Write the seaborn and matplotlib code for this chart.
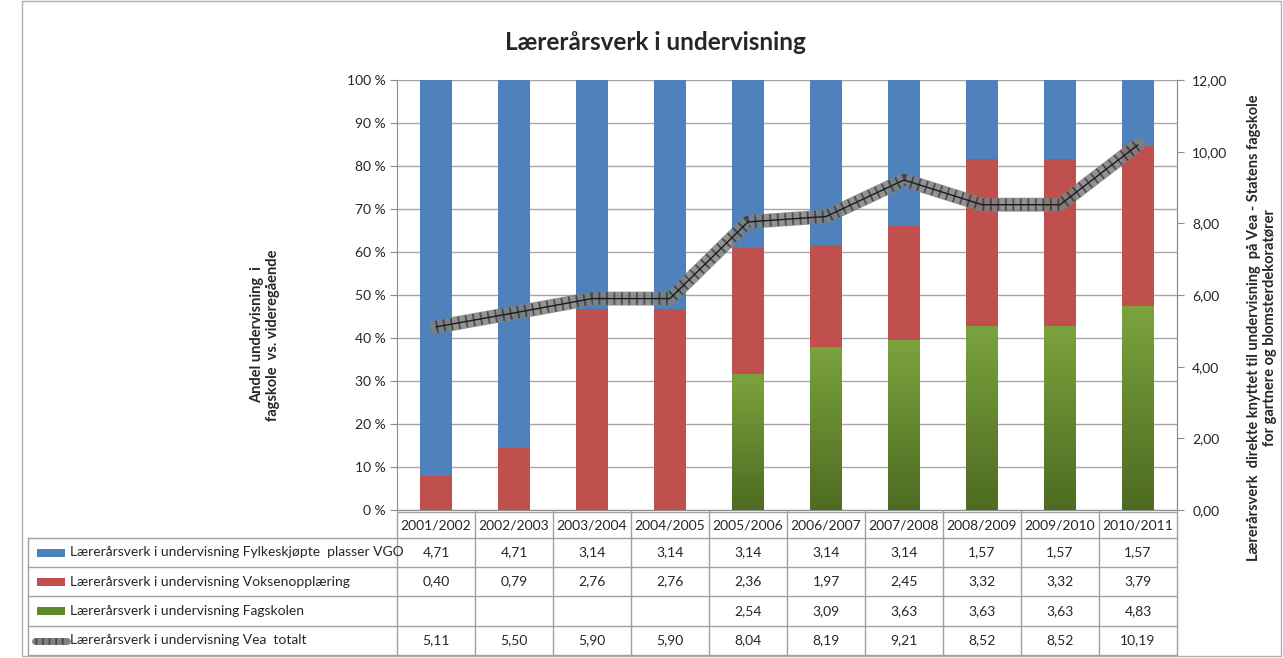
import numpy as np
import pandas as pd
import matplotlib
matplotlib.use("Agg")
import matplotlib.pyplot as plt
import seaborn as sns
from matplotlib.lines import Line2D
from matplotlib.patches import Rectangle

years = ['2001/2002', '2002/2003', '2003/2004', '2004/2005', '2005/2006',
         '2006/2007', '2007/2008', '2008/2009', '2009/2010', '2010/2011']
vgo = [4.71, 4.71, 3.14, 3.14, 3.14, 3.14, 3.14, 1.57, 1.57, 1.57]
voksen = [0.40, 0.79, 2.76, 2.76, 2.36, 1.97, 2.45, 3.32, 3.32, 3.79]
fagskolen = [np.nan, np.nan, np.nan, np.nan, 2.54, 3.09, 3.63, 3.63, 3.63, 4.83]
totalt = [5.11, 5.50, 5.90, 5.90, 8.04, 8.19, 9.21, 8.52, 8.52, 10.19]

row_labels = ['Lærerårsverk i undervisning Fylkeskjøpte  plasser VGO',
              'Lærerårsverk i undervisning Voksenopplæring',
              'Lærerårsverk i undervisning Fagskolen',
              'Lærerårsverk i undervisning Vea  totalt']

BLUE = '#4f81bd'
RED = '#c0504d'
GREEN_TOP = '#7ba33d'
GREEN_BOT = '#4d6b22'
GRID = '#a6a6a6'

df = pd.DataFrame({'year': years, 'vgo': vgo, 'voksen': voksen,
                   'fag': np.nan_to_num(fagskolen)})
tot = df[['vgo', 'voksen', 'fag']].sum(axis=1)
df['p_fag'] = df['fag'] / tot * 100
df['p_red'] = (df['fag'] + df['voksen']) / tot * 100
df['p_all'] = 100.0

sns.set_style('white')
plt.rcParams['font.family'] = ['Lato', 'DejaVu Sans']

W, H = 1283, 658
fig = plt.figure(figsize=(W / 100, H / 100), dpi=100)


def fx(x):
    return x / W


def fy(y):
    return 1 - y / H


L, R, T, B = 397, 1177, 80, 510
ax = fig.add_axes([fx(L), fy(B), fx(R) - fx(L), fy(T) - fy(B)])

bar_kw = dict(width=0.41, saturation=1, errorbar=None, ax=ax,
              linewidth=0, edgecolor='none')
sns.barplot(data=df, x='year', y='p_all', color=BLUE, **bar_kw)
sns.barplot(data=df, x='year', y='p_red', color=RED, **bar_kw)
n_before = len(ax.patches)
sns.barplot(data=df, x='year', y='p_fag', color=GREEN_TOP, **bar_kw)

# vertical gradient on the green bars
grad = np.linspace(0, 1, 256).reshape(-1, 1)
cmap = matplotlib.colors.LinearSegmentedColormap.from_list('g', [GREEN_BOT, GREEN_TOP])
for p in ax.patches[n_before:]:
    h = p.get_height()
    if h <= 0 or np.isnan(h):
        continue
    x0, y0, w = p.get_x(), p.get_y(), p.get_width()
    ax.imshow(grad, extent=[x0, x0 + w, y0, y0 + h], origin='lower',
              cmap=cmap, aspect='auto', zorder=2)
    p.set_visible(False)

ax.set_xlim(-0.5, len(years) - 0.5)
ax.set_ylim(0, 100)
ax.set_yticks(np.arange(0, 101, 10))
ax.set_yticklabels([f'{v} %' for v in range(0, 101, 10)], fontsize=10)
ax.set_xticks([])
ax.set_xlabel('')
ax.set_ylabel('')
ax.grid(axis='y', color=GRID, lw=1)
ax.set_axisbelow(True)
ax.spines['top'].set_visible(False)
for s in ['left', 'right', 'bottom']:
    ax.spines[s].set_color('#8c8c8c')
ax.tick_params(axis='y', length=5, color='#8c8c8c', left=True, pad=3)

ax2 = ax.twinx()
xs = np.arange(len(years))
sns.lineplot(x=xs, y=totalt, ax=ax2, color='#808080', lw=10, alpha=0.85, zorder=3)
sns.lineplot(x=xs, y=totalt, ax=ax2, color='#222222', lw=9, zorder=4, alpha=0.6)
ax2.lines[-1].set_dashes([0.15, 0.45])
sns.lineplot(x=xs, y=totalt, ax=ax2, color='#1a1a1a', lw=1, zorder=5)
ax2.set_ylim(0, 12)
ax2.set_xlim(-0.5, len(years) - 0.5)
ax2.set_yticks(np.arange(0, 13, 2))
ax2.set_yticklabels([f'{v:.2f}'.replace('.', ',') for v in np.arange(0, 13, 2)],
                    fontsize=10)
ax2.tick_params(axis='y', length=5, color='#8c8c8c', right=True, pad=6)
ax2.set_ylabel('')
for s in ['top', 'left', 'bottom']:
    ax2.spines[s].set_visible(False)
ax2.spines['right'].set_color('#8c8c8c')

# title and axis titles
fig.text(fx(655), fy(43), 'Lærerårsverk i undervisning', ha='center', va='center',
         fontsize=17.5, fontweight='bold')
fig.text(fx(265), fy(335), 'Andel undervisning  i\nfagskole  vs. videregående',
         rotation=90, ha='center', va='center', fontsize=10.5, fontweight='bold',
         linespacing=1.2)
fig.text(fx(1262), fy(328),
         'Lærerårsverk  direkte knyttet til undervisning  på Vea - Statens fagskole\n'
         'for gartnere og blomsterdekoratører',
         rotation=90, ha='center', va='center', fontsize=10.5, fontweight='bold',
         linespacing=1.15)

# data table drawn under the plot
TL = 28
row_y = [538, 567, 596, 626, 655]
hdr_top = 512
col_x = np.linspace(L, R, len(years) + 1)
lc = '#a0a0a0'


def hline(x0, x1, y):
    fig.add_artist(Line2D([fx(x0), fx(x1)], [fy(y), fy(y)], color=lc, lw=1))


def vline(x, y0, y1):
    fig.add_artist(Line2D([fx(x), fx(x)], [fy(y0), fy(y1)], color=lc, lw=1))


hline(L, R, hdr_top)
for y in row_y:
    hline(TL, R, y)
for x in col_x:
    vline(x, B, row_y[-1])
vline(TL, row_y[0], row_y[-1])

for i, yr in enumerate(years):
    cx = (col_x[i] + col_x[i + 1]) / 2
    fig.text(fx(cx), fy((B + row_y[0]) / 2 + 1), yr, ha='center', va='center',
             fontsize=10)

series = [vgo, voksen, fagskolen, totalt]
for r, vals in enumerate(series):
    cy = (row_y[r] + row_y[r + 1]) / 2
    for i, v in enumerate(vals):
        if v is None or np.isnan(v):
            continue
        cx = (col_x[i] + col_x[i + 1]) / 2
        fig.text(fx(cx), fy(cy), f'{v:.2f}'.replace('.', ','), ha='center',
                 va='center', fontsize=10)
    fig.text(fx(70), fy(cy), row_labels[r], ha='left', va='center', fontsize=10)

# legend keys inside the table
key_cols = [BLUE, RED, '#5f8a2c']
for r, c in enumerate(key_cols):
    cy = (row_y[r] + row_y[r + 1]) / 2
    fig.add_artist(Rectangle((fx(37), fy(cy + 4)), fx(28), fy(0) - fy(8),
                             facecolor=c, edgecolor='none'))
cy = (row_y[3] + row_y[4]) / 2
fig.add_artist(Line2D([fx(35), fx(67)], [fy(cy), fy(cy)], color='#808080', lw=5))
k = Line2D([fx(35), fx(67)], [fy(cy), fy(cy)], color='#222222', lw=5, alpha=0.6)
k.set_dashes([0.25, 0.7])
fig.add_artist(k)

# chart frame
fig.add_artist(Rectangle((fx(22), fy(656)), fx(1281) - fx(22), fy(1) - fy(656),
                         fill=False, edgecolor='#b0b0b0', lw=1))

fig.savefig('out.png', dpi=100)
